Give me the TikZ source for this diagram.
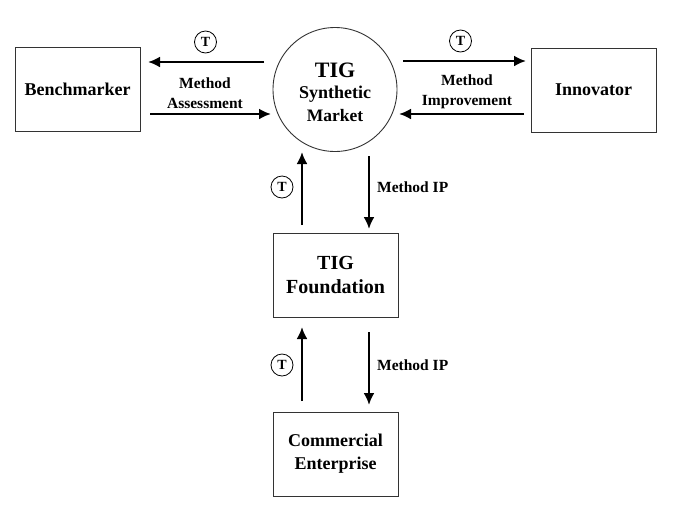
\documentclass[tikz,border=0pt]{standalone}
\usepackage{fontspec}
\setmainfont{Liberation Serif}
\usetikzlibrary{arrows.meta}
\begin{document}
\begin{tikzpicture}[x=1pt,y=-1pt,
  box/.style={draw=black!80, line width=0.9pt, minimum width=125pt, minimum height=84pt, inner sep=0pt, align=center, font=\bfseries\fontsize{18}{19}\selectfont},
  flow/.style={line width=2.3pt, -{Latex[length=12pt,width=11pt]}},
  tok/.style={circle, draw, line width=0.8pt, minimum size=22pt, inner sep=0pt, font=\bfseries\fontsize{14}{14}\selectfont},
  lbl/.style={font=\bfseries\fontsize{15.5}{20}\selectfont, align=center, inner sep=0pt}]
\useasboundingbox (0,0) rectangle (680,515);
\node[box] (bench) at (77.5,89.5) {Benchmarker};
\node[box] (innov) at (593.5,90) {Innovator};
\node[circle, draw=black!80, line width=0.9pt, minimum size=124pt, inner sep=0pt] (mkt) at (335,89.5) {};
\node[font=\bfseries\fontsize{22}{24}\selectfont] (tig) at (335,70) {TIG};
\node[lbl, font=\bfseries\fontsize{18}{18}\selectfont] (syn) at (335,94) {Synthetic};
\node[lbl, font=\bfseries\fontsize{17.5}{18}\selectfont] (mar) at (335,116) {Market};
\node[box, font=\bfseries\fontsize{20}{24}\selectfont] (found) at (335.5,275) {TIG\\Foundation};
\node[box, font=\bfseries\fontsize{18}{23}\selectfont] (comm) at (335.5,454) {Commercial\\Enterprise};

% coordinates for arrow ends
\coordinate (a1s) at (264,62); \coordinate (a1e) at (148,62);
\coordinate (a2s) at (150,114); \coordinate (a2e) at (271,114);
\coordinate (a3s) at (403,61); \coordinate (a3e) at (526,61);
\coordinate (a4s) at (524,114); \coordinate (a4e) at (399,114);
\coordinate (v1s) at (302,225); \coordinate (v1e) at (302,152);
\coordinate (v2s) at (369,156); \coordinate (v2e) at (369,229);
\coordinate (v3s) at (302,401); \coordinate (v3e) at (302,327);
\coordinate (v4s) at (369,332); \coordinate (v4e) at (369,405);

\draw[flow] (a1s) -- (a1e);
\draw[flow] (a2s) -- (a2e);
\draw[flow] (a3s) -- (a3e);
\draw[flow] (a4s) -- (a4e);
\draw[flow] (v1s) -- (v1e);
\draw[flow] (v2s) -- (v2e);
\draw[flow] (v3s) -- (v3e);
\draw[flow] (v4s) -- (v4e);

\node[tok] (t1) at (205.5,42) {T};
\node[tok] (t2) at (460.5,41) {T};
\node[tok] (t3) at (282,187) {T};
\node[tok] (t4) at (282,365) {T};

\node[lbl] (l1) at (205,93) {Method\\Assessment};
\node[lbl] (l2) at (467,92) {Method\\Improvement};
\node[lbl, anchor=west] (l3) at (377,187) {Method IP};
\node[lbl, anchor=west] (l4) at (377,365) {Method IP};
\end{tikzpicture}
\end{document}
